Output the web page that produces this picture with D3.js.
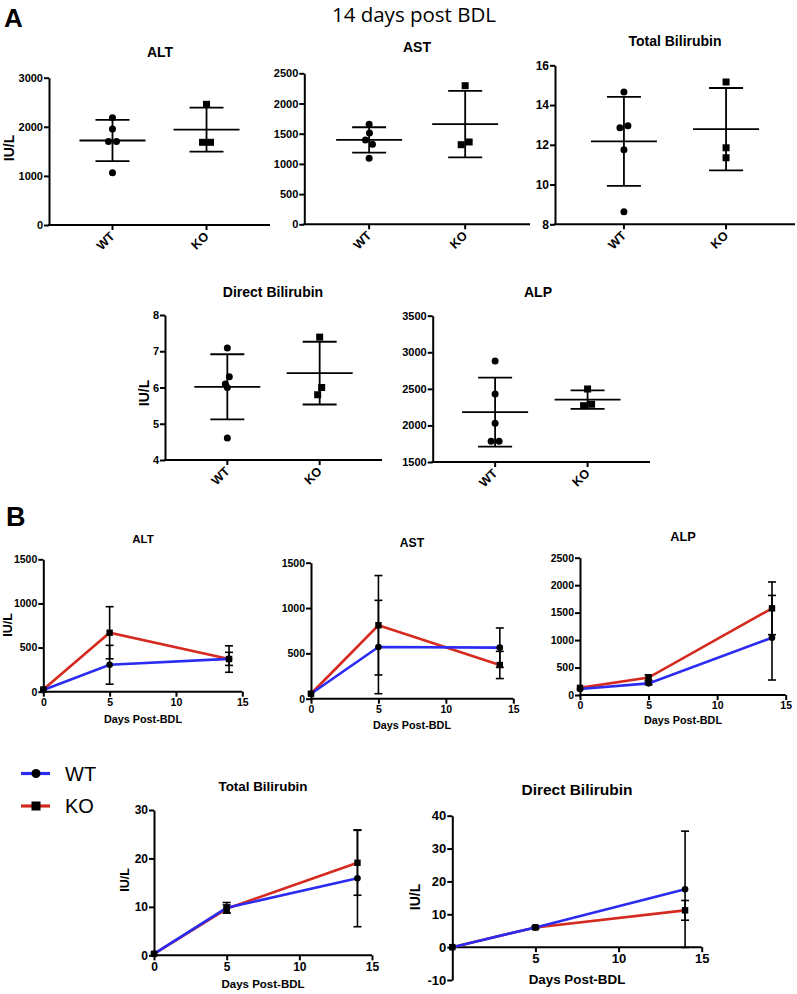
<!DOCTYPE html>
<html><head><meta charset="utf-8">
<script src="https://cdn.jsdelivr.net/npm/d3@7"></script>
<style>body{margin:0;background:#fff}</style>
</head><body><svg id="c" width="797" height="994" xmlns="http://www.w3.org/2000/svg"></svg>
<script>
// ---------- DATA ----------
const groups = ["WT", "KO"];
const seriesColors = ["#2b2bf2", "#d42a20"];
// Panel A : individual values at 14 days post BDL
const altWT = [2185, 1955, 1700, 1700, 1065];
const altKO = [2458, 1684, 1684];
const astWT = [1656, 1511, 1396, 1325, 1093];
const astKO = [2295, 1318, 1363];
const tbilWT = [14.66, 12.86, 12.96, 11.75, 8.63];
const tbilKO = [15.16, 11.85, 11.35];
const dbilWT = [7.09, 6.30, 6.10, 6.00, 4.61];
const dbilKO = [7.39, 6.00, 5.80];
const alpWT = [2881, 2430, 2029, 1783, 1783];
const alpKO = [2498, 2270, 2289];
// Panel B : time course (mean, SD)
const days = [0, 5, 14];
const bAltWT = [20, 305, 372],   bAltWTsd = [0, 220, 74];
const bAltKO = [25, 668, 370],   bAltKOsd = [0, 295, 150];
const bAstWT = [55, 570, 563],   bAstWTsd = [0, 515, 217];
const bAstKO = [55, 810, 372],   bAstKOsd = [0, 548, 150];
const bAlpWT = [110, 212, 1043], bAlpWTsd = [0, 25, 770];
const bAlpKO = [130, 318, 1578], bAlpKOsd = [0, 50, 480];
const bTbWT = [0.3, 9.8, 15.9],  bTbWTsd = [0, 1.1, 10.0];
const bTbKO = [0.3, 9.6, 19.1],  bTbKOsd = [0, 0.8, 6.7];
const bDbWT = [0, 6.0, 17.6],    bDbWTsd = [0, 0.3, 17.7];
const bDbKO = [0, 6.0, 11.2],    bDbKOsd = [0, 0.3, 3.0];
const xTicksB = [0, 5, 10, 15];

// ---------- DRAW ----------
const svg = d3.select("#c");
const FONT = '"Liberation Sans", Arial, Helvetica, sans-serif';

function txt(x, y, s, size, opts = {}) {
  const t = svg.append("text").attr("x", x).attr("y", y).text(s)
    .attr("font-family", opts.family || FONT).attr("font-size", size)
    .attr("font-weight", opts.weight || "bold").attr("fill", "#000")
    .attr("text-anchor", opts.anchor || "middle");
  if (opts.rotate) t.attr("transform", `rotate(${opts.rotate},${x},${y})`);
  return t;
}
function styleAxis(g, fs) {
  g.attr("font-family", FONT).attr("font-size", fs).attr("font-weight", "bold");
  g.selectAll("path.domain").attr("stroke", "#000").attr("stroke-width", 2);
  g.selectAll(".tick line").attr("stroke", "#000").attr("stroke-width", 2);
  g.selectAll(".tick text").attr("fill", "#000");
}

function dodge(vals, y, thr) {
  const pts = vals.map(v => ({ v, py: y(v), dx: 0 }));
  const order = pts.slice().sort((a, b) => b.v - a.v);
  const placed = [];
  order.forEach(p => {
    for (let k = 0; k < 60; k++) {
      const off = k === 0 ? 0 : (k % 2 ? -Math.ceil(k / 2) : Math.ceil(k / 2));
      if (placed.every(q => Math.hypot(q.dx - off, q.py - p.py) >= thr)) { p.dx = off; break; }
    }
    placed.push(p);
  });
  // centre each collision cluster
  const parent = pts.map((_, i) => i);
  const find = i => parent[i] === i ? i : (parent[i] = find(parent[i]));
  for (let i = 0; i < pts.length; i++) for (let j = i + 1; j < pts.length; j++)
    if (Math.hypot(pts[i].dx - pts[j].dx, pts[i].py - pts[j].py) < thr + 0.6) parent[find(i)] = find(j);
  const cl = d3.group(pts.map((p, i) => [find(i), p]), d => d[0]);
  cl.forEach(arr => {
    const m = d3.mean(arr, d => d[1].dx);
    arr.forEach(d => d[1].dx -= m);
  });
  return pts;
}

const panelsA = [
  { title: "ALT", wt: altWT, ko: altKO, domain: [0, 3000], ticks: [0, 1000, 2000, 3000],
    left: 49, right: 270, top: 77.7, bottom: 225, tx: 160, ty: 57, ylab: [9, 148], fs: 11 },
  { title: "AST", wt: astWT, ko: astKO, domain: [0, 2500], ticks: [0, 500, 1000, 1500, 2000, 2500],
    left: 304.3, right: 530, top: 73.3, bottom: 224.3, tx: 417, ty: 52, fs: 11 },
  { title: "Total Bilirubin", wt: tbilWT, ko: tbilKO, domain: [8, 16], ticks: [8, 10, 12, 14, 16],
    left: 555, right: 795, top: 65.3, bottom: 224.3, tx: 675, ty: 46, fs: 12 },
  { title: "Direct Bilirubin", wt: dbilWT, ko: dbilKO, domain: [4, 8], ticks: [4, 5, 6, 7, 8],
    left: 165, right: 382, top: 315, bottom: 460, tx: 273, ty: 297, ylab: [144, 393], fs: 11 },
  { title: "ALP", wt: alpWT, ko: alpKO, domain: [1500, 3500], ticks: [1500, 2000, 2500, 3000, 3500],
    left: 432.7, right: 650, top: 315.7, bottom: 462, tx: 538, ty: 297, fs: 11 }
];

panelsA.forEach(p => {
  const y = d3.scaleLinear().domain(p.domain).range([p.bottom, p.top]);
  const x = d3.scalePoint().domain(groups).range([p.left, p.right]).padding(0.675);
  const ya = svg.append("g").attr("transform", `translate(${p.left},0)`)
    .call(d3.axisLeft(y).tickValues(p.ticks).tickSize(5).tickSizeOuter(0).tickPadding(1).tickFormat(d => String(d)));
  styleAxis(ya, p.fs);
  svg.append("line").attr("x1", p.left - 1).attr("x2", p.right).attr("y1", p.bottom).attr("y2", p.bottom)
    .attr("stroke", "#000").attr("stroke-width", 2);
  groups.forEach(k => {
    svg.append("line").attr("x1", x(k)).attr("x2", x(k)).attr("y1", p.bottom).attr("y2", p.bottom + 5)
      .attr("stroke", "#000").attr("stroke-width", 2);
    txt(x(k) + 3, p.bottom + 12, k, 12.5, { anchor: "end", rotate: -45 });
  });
  txt(p.tx, p.ty, p.title, 14);
  if (p.ylab) txt(p.ylab[0], p.ylab[1], "IU/L", 14, { rotate: -90 }).attr("dominant-baseline", "central");

  [[p.wt, "WT"], [p.ko, "KO"]].forEach(([vals, k]) => {
    const cx = x(k);
    const m = d3.mean(vals), sd = d3.deviation(vals);
    const g = svg.append("g").attr("stroke", "#000").attr("stroke-width", 1.8);
    g.append("line").attr("x1", cx).attr("x2", cx).attr("y1", y(m + sd)).attr("y2", y(m - sd));
    [m + sd, m - sd].forEach(v => g.append("line").attr("x1", cx - 17).attr("x2", cx + 17).attr("y1", y(v)).attr("y2", y(v)));
    g.append("line").attr("x1", cx - 33).attr("x2", cx + 33).attr("y1", y(m)).attr("y2", y(m));
    const pts = dodge(vals, y, 8);
    pts.forEach(pt => {
      if (k === "WT") svg.append("circle").attr("cx", cx + pt.dx).attr("cy", pt.py).attr("r", 3.5).attr("fill", "#000");
      else svg.append("rect").attr("x", cx + pt.dx - 3.5).attr("y", pt.py - 3.5).attr("width", 7).attr("height", 7).attr("fill", "#000");
    });
  });
});

const panelsB = [
  { title: "ALT", wt: [bAltWT, bAltWTsd], ko: [bAltKO, bAltKOsd], domain: [0, 1500], ticks: [0, 500, 1000, 1500],
    left: 43.3, right: 242.3, top: 559.3, bottom: 691.7, tx: 143, ty: 543, tfs: 11.5,
    xl: [143, 723, 10.8], ylab: [8, 625, 12.5], fs: 10.5, xt: xTicksB },
  { title: "AST", wt: [bAstWT, bAstWTsd], ko: [bAstKO, bAstKOsd], domain: [0, 1500], ticks: [0, 500, 1000, 1500],
    left: 311, right: 513.3, top: 562.7, bottom: 698.7, tx: 412, ty: 547, tfs: 12.2,
    xl: [412, 729, 10.8], fs: 10.5, xt: xTicksB },
  { title: "ALP", wt: [bAlpWT, bAlpWTsd], ko: [bAlpKO, bAlpKOsd], domain: [0, 2500], ticks: [0, 500, 1000, 1500, 2000, 2500],
    left: 580, right: 785.7, top: 557.7, bottom: 695, tx: 683, ty: 541, tfs: 12.8,
    xl: [683, 724, 10.8], fs: 10.5, xt: xTicksB },
  { title: "Total Bilirubin", wt: [bTbWT, bTbWTsd], ko: [bTbKO, bTbKOsd], domain: [0, 30], ticks: [0, 10, 20, 30],
    left: 154, right: 372, top: 810, bottom: 955.3, tx: 263, ty: 791, tfs: 13.4,
    xl: [263, 988, 11.5], ylab: [125, 880, 12.5], fs: 12, xt: xTicksB },
  { title: "Direct Bilirubin", wt: [bDbWT, bDbWTsd], ko: [bDbKO, bDbKOsd], domain: [-10, 40], ticks: [-10, 0, 10, 20, 30, 40],
    left: 452.3, right: 701.7, top: 815.7, bottom: 980, tx: 577, ty: 795, tfs: 15.5, xAt: 0,
    xl: [577, 984, 13.4], ylab: [415, 897, 14], fs: 13, xt: [5, 10, 15] }
];

panelsB.forEach(p => {
  const x = d3.scaleLinear().domain([0, 15]).range([p.left, p.right]);
  const y = d3.scaleLinear().domain(p.domain).range([p.bottom, p.top]);
  const xy = y(p.xAt !== undefined ? p.xAt : p.domain[0]);
  const ya = svg.append("g").attr("transform", `translate(${p.left},0)`)
    .call(d3.axisLeft(y).tickValues(p.ticks).tickSize(5).tickSizeOuter(0).tickPadding(1).tickFormat(d => String(d)));
  styleAxis(ya, p.fs);
  const xa = svg.append("g").attr("transform", `translate(0,${xy})`)
    .call(d3.axisBottom(x).tickValues(p.xt).tickSize(5).tickSizeOuter(0).tickPadding(2).tickFormat(d => String(d)));
  styleAxis(xa, p.fs);
  xa.select("path.domain").attr("d", `M${p.left - 1},0.5H${x(15)}`).attr("transform", "translate(0,-0.5)");
  txt(p.tx, p.ty, p.title, p.tfs);
  txt(p.xl[0], p.xl[1], "Days Post-BDL", p.xl[2]);
  if (p.ylab) txt(p.ylab[0], p.ylab[1], "IU/L", p.ylab[2], { rotate: -90 }).attr("dominant-baseline", "central");

  const series = [[p.ko, 1], [p.wt, 0]];
  // error bars
  series.forEach(([[mean, sd]]) => {
    const g = svg.append("g").attr("stroke", "#000").attr("stroke-width", 1.6);
    days.forEach((d, i) => {
      if (!sd[i]) return;
      const cx = x(d);
      g.append("line").attr("x1", cx).attr("x2", cx).attr("y1", y(mean[i] + sd[i])).attr("y2", y(mean[i] - sd[i]));
      [mean[i] + sd[i], mean[i] - sd[i]].forEach(v =>
        g.append("line").attr("x1", cx - 4).attr("x2", cx + 4).attr("y1", y(v)).attr("y2", y(v)));
    });
  });
  // lines: KO first, WT on top
  series.forEach(([[mean], ci]) => {
    svg.append("path").datum(days.map((d, i) => [d, mean[i]]))
      .attr("d", d3.line().x(d => x(d[0])).y(d => y(d[1])))
      .attr("fill", "none").attr("stroke", seriesColors[ci]).attr("stroke-width", 2.6);
  });
  // markers
  days.forEach((d, i) => svg.append("circle").attr("cx", x(d)).attr("cy", y(p.wt[0][i])).attr("r", 3.3).attr("fill", "#000"));
  days.forEach((d, i) => svg.append("rect").attr("x", x(d) - 3.2).attr("y", y(p.ko[0][i]) - 3.2)
    .attr("width", 6.4).attr("height", 6.4).attr("fill", "#000"));
});

// legend
const legY = [773.5, 806];
groups.forEach((k, i) => {
  svg.append("line").attr("x1", 21).attr("x2", 50).attr("y1", legY[i]).attr("y2", legY[i])
    .attr("stroke", seriesColors[i]).attr("stroke-width", 3.2);
  if (i === 0) svg.append("circle").attr("cx", 36).attr("cy", legY[i]).attr("r", 4.5).attr("fill", "#000");
  else svg.append("rect").attr("x", 31.5).attr("y", legY[i] - 4.5).attr("width", 9).attr("height", 9).attr("fill", "#000");
  txt(65, legY[i] + 7, k, 20, { anchor: "start", weight: "normal" });
});

// panel letters & header
txt(4, 27, "A", 26, { anchor: "start" });
txt(6, 526, "B", 27, { anchor: "start" });
txt(414, 22, "14 days post BDL", 20.5, { weight: "normal", family: '"Open Sans", "Liberation Sans", sans-serif' });
</script>
</body></html>
